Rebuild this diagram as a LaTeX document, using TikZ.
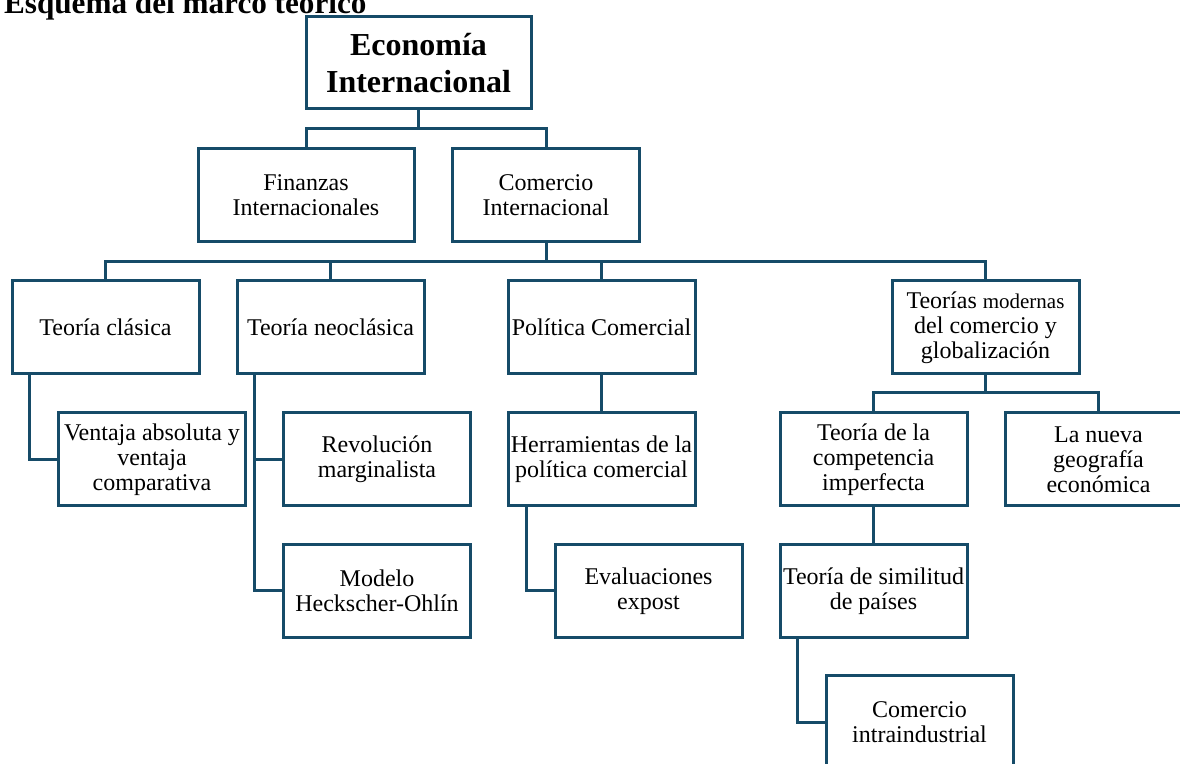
\documentclass[tikz,border=0pt]{standalone}
\usepackage{fontspec}
\setmainfont{Liberation Serif}
\definecolor{linkblue}{RGB}{22,75,104}
\tikzset{
  box/.style={draw=linkblue, line width=1.5pt, minimum width=93.5pt, minimum height=46.5pt,
    inner sep=0pt, align=center, font=\fontsize{12}{12.5}\selectfont},
  link/.style={draw=linkblue, line width=1.5pt},
}
\begin{document}
\begin{tikzpicture}[x=0.5pt, y=-0.5pt]
  \useasboundingbox (0,0) rectangle (1180,764);

  \node[anchor=base west, font=\bfseries\fontsize{15.6}{18}\selectfont] (title) at (-3,14) {Esquema del marco teórico};

  \node[box, minimum width=112.5pt, minimum height=46pt, font=\bfseries\fontsize{16}{18.5}\selectfont] (econ) at (418.5,63) {Economía\\Internacional};

  \node[box, minimum width=108pt] (fin) at (306,195.5) {Finanzas\\Internacionales};
  \node[box] (com) at (546,195.5) {Comercio\\Internacional};

  \node[box] (clas) at (105.5,327.5) {Teoría clásica};
  \node[box] (neo)  at (330.5,327.5) {Teoría neoclásica};
  \node[box] (pol)  at (601.5,327.5) {Política Comercial};
  \node[box] (mod)  at (985.5,327.5) {Teorías {\fontsize{10.5}{12.5}\selectfont modernas}\\del comercio y\\globalización};

  \node[box] (vent)  at (152,459.5)   {Ventaja absoluta y\\ventaja\\comparativa};
  \node[box] (rev)   at (377,459.5)   {Revolución\\marginalista};
  \node[box] (herr)  at (601.5,459.5) {Herramientas de la\\política comercial};
  \node[box] (comp)  at (873.5,459.5) {Teoría de la\\competencia\\imperfecta};
  \node[box] (geo)   at (1098.5,459.5) {La nueva\\geografía\\económica};

  \node[box] (hecks) at (377,591)   {Modelo\\Heckscher-Ohlín};
  \node[box] (eval)  at (648.5,591) {Evaluaciones\\expost};
  \node[box] (simil) at (873.5,591) {Teoría de similitud\\de países};

  \node[box] (intra) at (919.5,722.5) {Comercio\\intraindustrial};

  \path
    coordinate (bus1) at (0,129)
    coordinate (bus2) at (0,262)
    coordinate (bus3) at (0,393)
  ;

  \draw[link] (econ.south) -- (econ.south |- bus1);
  \draw[link] (fin.north) -- (fin.north |- bus1) -- (com.north |- bus1) -- (com.north);

  \draw[link] (com.south) -- (com.south |- bus2);
  \draw[link] (clas.north) -- (clas.north |- bus2) -- (mod.north |- bus2) -- (mod.north);
  \draw[link] (neo.north) -- (neo.north |- bus2);
  \draw[link] (pol.north) -- (pol.north |- bus2);

  \draw[link] ([xshift=9.5pt]clas.south west) |- (vent.west);
  \draw[link] ([xshift=9.5pt]neo.south west) |- (hecks.west);
  \draw[link] ([xshift=9.5pt]neo.south west) |- (rev.west);
  \draw[link] (pol.south) -- (herr.north);
  \draw[link] ([xshift=10pt]herr.south west) |- (eval.west);

  \draw[link] (mod.south) -- (mod.south |- bus3);
  \draw[link] (comp.north) -- (comp.north |- bus3) -- (geo.north |- bus3) -- (geo.north);
  \draw[link] (comp.south) -- (simil.north);
  \draw[link] ([xshift=9.5pt]simil.south west) |- (intra.west);

\end{tikzpicture}
\end{document}
